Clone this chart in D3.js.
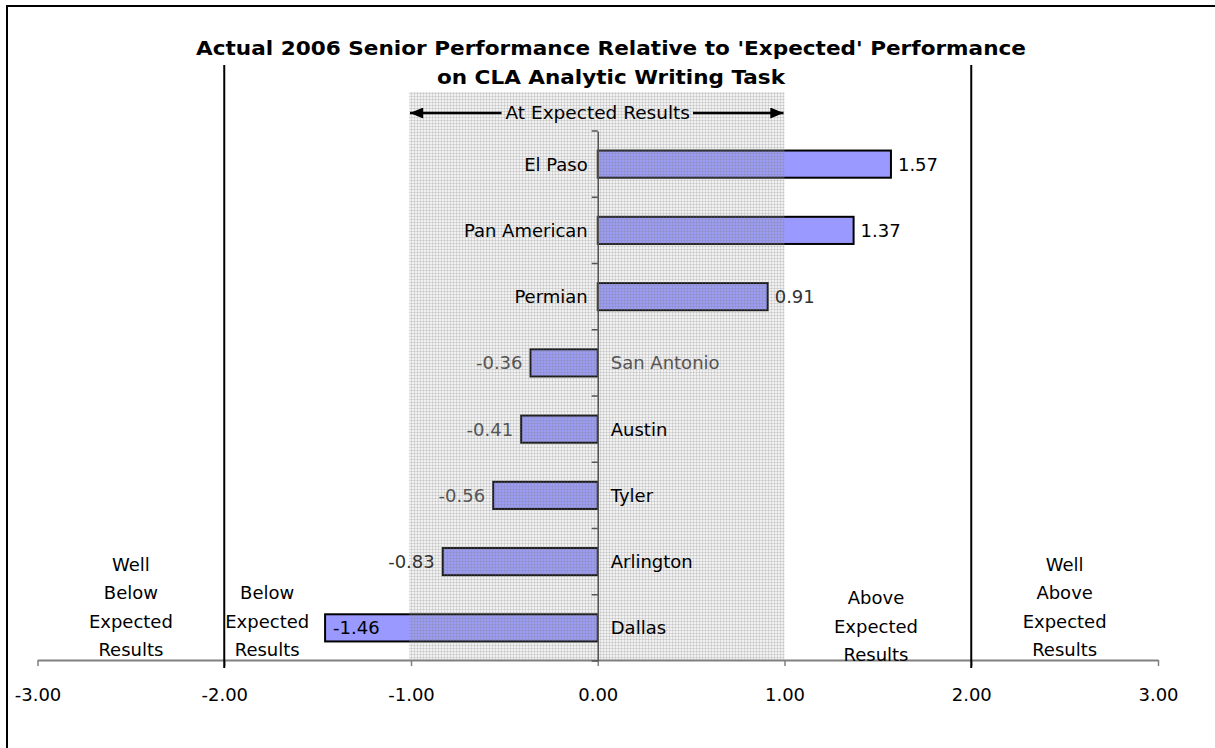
<!DOCTYPE html>
<html>
<head>
<meta charset="utf-8">
<script src="https://d3js.org/d3.v7.min.js"></script>
<style>
  body { margin: 0; background: #fff; overflow: hidden; }
  svg { display: block; font-family: Tahoma, "DejaVu Sans", sans-serif; }
</style>
</head>
<body>
<div id="chart"></div>
<script>
// data
const schools = ["El Paso", "Pan American", "Permian", "San Antonio", "Austin", "Tyler", "Arlington", "Dallas"]
const scores = [1.57, 1.37, 0.91, -0.36, -0.41, -0.56, -0.83, -1.46]
const xTicks = [-3, -2, -1, 0, 1, 2, 3]
const zoneLines = [-2, 2]
const zoneLabels = [
  {at: -2.5, lines: ["Well", "Below", "Expected", "Results"]},
  {at: -1.77, lines: ["Below", "Expected", "Results"]},
  {at: 1.49, lines: ["Above", "Expected", "Results"]},
  {at: 2.5, lines: ["Well", "Above", "Expected", "Results"]}
]
const titleLines = ["Actual 2006 Senior Performance Relative to 'Expected' Performance", "on CLA Analytic Writing Task"]
const midLabel = "At Expected Results"

const width = 1215
const height = 748
const fmt = d => d.toFixed(2)

const svg = d3.select("#chart").append("svg")
  .attr("width", width)
  .attr("height", height)

// frame, runs off the bottom/right like the screenshot
svg.append("rect")
  .attr("x", 7).attr("y", 6)
  .attr("width", width + 50).attr("height", height + 50)
  .attr("fill", "none").attr("stroke", "#000").attr("stroke-width", 2)

const x = d3.scaleLinear().domain([-3, 3]).range([37.5, 1158])
const y = d3.scaleBand().domain(schools).range([131, 661]).padding(0)
const barH = y.bandwidth() * 0.41
const axisY = 660

// pattern for the "expected" zone
const defs = svg.append("defs")
const pat = defs.append("pattern")
  .attr("id", "grid")
  .attr("width", 3).attr("height", 3)
  .attr("patternUnits", "userSpaceOnUse")
pat.append("rect").attr("width", 3).attr("height", 3)
  .attr("fill", "#a8a8a8").attr("fill-opacity", 0.16)
pat.append("path").attr("d", "M0,0.5H3M0.5,0V3")
  .attr("stroke", "#7a7a7a").attr("stroke-opacity", 0.2).attr("stroke-width", 1)

defs.append("marker")
  .attr("id", "arrow")
  .attr("viewBox", "0 0 12 10")
  .attr("refX", 12).attr("refY", 5)
  .attr("markerWidth", 14).attr("markerHeight", 11)
  .attr("markerUnits", "userSpaceOnUse")
  .attr("orient", "auto")
  .append("path").attr("d", "M0,0L12,5L0,10Z").attr("fill", "#000")

// title
svg.selectAll("text.title").data(titleLines).enter().append("text")
  .attr("class", "title")
  .attr("x", 611)
  .attr("y", (d, i) => 55 + i * 29)
  .attr("text-anchor", "middle")
  .attr("font-size", 20)
  .attr("font-weight", "bold")
  .attr("textLength", (d, i) => i === 0 ? 830 : 348)
  .attr("lengthAdjust", "spacingAndGlyphs")
  .text(d => d)

// bars
svg.selectAll("rect.bar").data(scores).enter().append("rect")
  .attr("class", "bar")
  .attr("x", d => x(Math.min(0, d)))
  .attr("y", (d, i) => y(schools[i]) + (y.bandwidth() - barH) / 2)
  .attr("width", d => Math.abs(x(d) - x(0)))
  .attr("height", barH)
  .attr("fill", "#9999ff")
  .attr("stroke", "#000")
  .attr("stroke-width", 2)

// shaded zone drawn over the bars
svg.append("rect")
  .attr("x", x(-1) - 2).attr("y", 92)
  .attr("width", x(1) - x(-1) + 2).attr("height", axisY - 92)
  .attr("fill", "url(#grid)")

// x axis
const xAxis = svg.append("g")
  .attr("transform", `translate(0,${axisY})`)
  .call(d3.axisBottom(x).tickValues(xTicks).tickFormat(fmt).tickSize(6).tickSizeOuter(0).tickPadding(22))
xAxis.select(".domain").attr("stroke", "#808080").attr("stroke-width", 2)
xAxis.selectAll(".tick line").attr("stroke", "#808080").attr("stroke-width", 1.5)
xAxis.selectAll(".tick text")
  .attr("font-size", 18).attr("fill", "#000")
  .attr("font-family", "Tahoma, 'DejaVu Sans', sans-serif")

// y axis on zero with ticks between categories
const yAxis = svg.append("g")
  .attr("transform", `translate(${x(0)},0)`)
  .call(d3.axisLeft(y).tickSize(0).tickFormat(""))
yAxis.select(".domain").attr("stroke", "#555").attr("stroke-width", 1.5)
const bounds = schools.map(s => y(s)).concat([y(schools[schools.length - 1]) + y.step()])
yAxis.selectAll("line.sep").data(bounds).enter().append("line")
  .attr("class", "sep")
  .attr("x1", -6).attr("x2", 0)
  .attr("y1", d => d).attr("y2", d => d)
  .attr("stroke", "#555").attr("stroke-width", 1.5)

// zone boundaries at +/-2
svg.selectAll("line.zone").data(zoneLines).enter().append("line")
  .attr("class", "zone")
  .attr("x1", d => x(d)).attr("x2", d => x(d))
  .attr("y1", 65).attr("y2", 668)
  .attr("stroke", "#000").attr("stroke-width", 2)

// "At Expected Results" with arrows
const mid = svg.append("text")
  .attr("x", x(0)).attr("y", 119)
  .attr("text-anchor", "middle")
  .attr("font-size", 18.5)
  .text(midLabel)
const half = mid.node().getComputedTextLength() / 2
svg.append("line")
  .attr("x1", x(0) - half - 4).attr("x2", x(-1) - 1)
  .attr("y1", 113).attr("y2", 113)
  .attr("stroke", "#000").attr("stroke-width", 2.5)
  .attr("marker-end", "url(#arrow)")
svg.append("line")
  .attr("x1", x(0) + half + 3).attr("x2", x(1) - 1)
  .attr("y1", 113).attr("y2", 113)
  .attr("stroke", "#000").attr("stroke-width", 2.5)
  .attr("marker-end", "url(#arrow)")

// category names on the opposite side of zero
const mutedNames = ["San Antonio"]
svg.selectAll("text.cat").data(schools).enter().append("text")
  .attr("class", "cat")
  .attr("x", (d, i) => scores[i] >= 0 ? x(0) - 10 : x(0) + 13)
  .attr("y", d => y(d) + y.bandwidth() / 2)
  .attr("dy", "0.36em")
  .attr("text-anchor", (d, i) => scores[i] >= 0 ? "end" : "start")
  .attr("font-size", 18)
  .attr("fill", d => mutedNames.includes(d) ? "#555" : "#000")
  .text(d => d)

// value labels
svg.selectAll("text.val").data(scores).enter().append("text")
  .attr("class", "val")
  .attr("x", d => d >= 0 ? x(d) + 7 : (x(d) < x(-1.2) ? x(d) + 8 : x(d) - 8))
  .attr("y", (d, i) => y(schools[i]) + y.bandwidth() / 2)
  .attr("dy", "0.36em")
  .attr("text-anchor", d => d >= 0 || x(d) < x(-1.2) ? "start" : "end")
  .attr("font-size", 18)
  .attr("fill", d => Math.abs(d) < 0.7 ? "#555" : (Math.abs(d) < 1 ? "#333" : "#000"))
  .text(fmt)

// zone captions
zoneLabels.forEach(z => {
  const n = z.lines.length
  const base = z.at === 1.49 ? 655 : 650
  svg.selectAll(null).data(z.lines).enter().append("text")
    .attr("x", x(z.at))
    .attr("y", (d, i) => base - (n - 1 - i) * 28.5)
    .attr("dy", "0.36em")
    .attr("text-anchor", "middle")
    .attr("font-size", 18)
    .text(d => d)
})
</script>
</body>
</html>
